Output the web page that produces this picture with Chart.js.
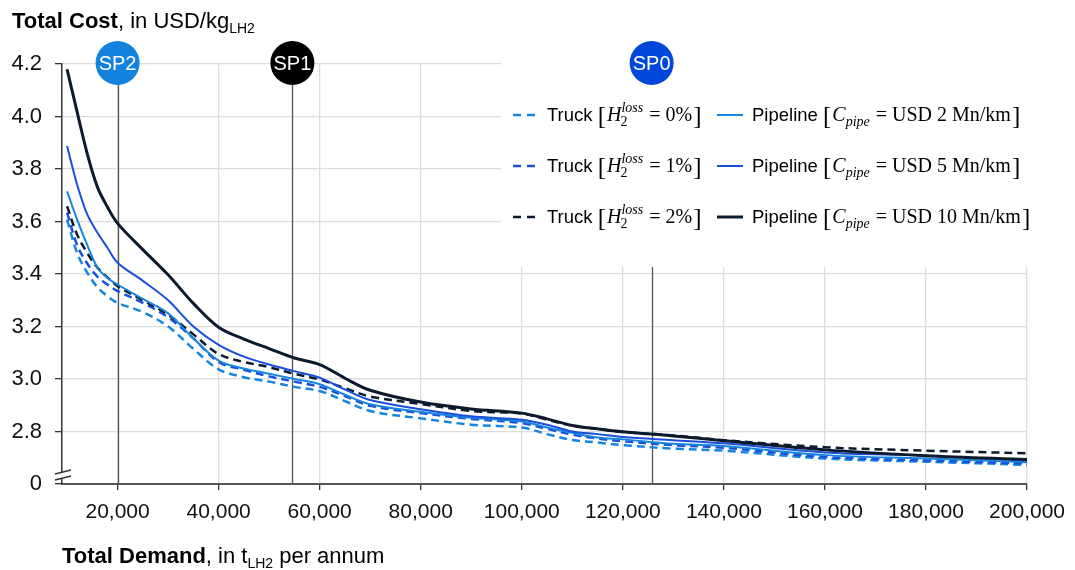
<!DOCTYPE html>
<html>
<head>
<meta charset="utf-8">
<script src="https://cdn.jsdelivr.net/npm/chart.js@4.4.1/dist/chart.umd.min.js"></script>
<style>
  html, body { margin: 0; padding: 0; background: #fff; }
  canvas { display: block; }
</style>
</head>
<body>
<canvas id="costChart" width="1075" height="570"></canvas>
<script>
// Total demand, t LH2 per annum
const demand = [10000, 12000, 14000, 16000, 18000, 20000, 25000, 30000, 35000, 40000, 45000, 50000, 55000, 60000,
                65000, 70000, 80000, 90000, 100000, 105000, 110000, 115000, 120000, 130000, 140000, 160000, 180000, 200000];

// Total cost, USD/kg LH2
const truck0 = [3.607, 3.48, 3.405, 3.35, 3.315, 3.29, 3.255, 3.2, 3.115, 3.037, 3.007, 2.99, 2.97, 2.954,
                2.916, 2.878, 2.85, 2.826, 2.815, 2.79, 2.768, 2.758, 2.748, 2.735, 2.727, 2.697, 2.685, 2.673];
const truck1 = [3.634, 3.51, 3.44, 3.39, 3.36, 3.335, 3.29, 3.235, 3.155, 3.065, 3.035, 3.01, 2.99, 2.97,
                2.935, 2.898, 2.87, 2.848, 2.832, 2.81, 2.788, 2.773, 2.763, 2.748, 2.738, 2.703, 2.69, 2.678];
const truck2 = [3.658, 3.55, 3.48, 3.425, 3.387, 3.354, 3.3, 3.245, 3.17, 3.095, 3.065, 3.045, 3.02, 2.998,
                2.965, 2.933, 2.905, 2.878, 2.868, 2.845, 2.822, 2.81, 2.798, 2.785, 2.767, 2.74, 2.727, 2.717];
const pipe2  = [3.715, 3.607, 3.51, 3.425, 3.385, 3.36, 3.305, 3.25, 3.155, 3.07, 3.04, 3.02, 3.0, 2.98,
                2.94, 2.904, 2.875, 2.852, 2.838, 2.815, 2.795, 2.777, 2.77, 2.753, 2.745, 2.71, 2.697, 2.683];
const pipe5  = [3.888, 3.74, 3.627, 3.558, 3.5, 3.443, 3.374, 3.3, 3.2, 3.13, 3.085, 3.055, 3.03, 3.005,
                2.96, 2.92, 2.885, 2.858, 2.845, 2.826, 2.8, 2.79, 2.779, 2.767, 2.755, 2.72, 2.708, 2.689];
const pipe10 = [4.18, 4.017, 3.858, 3.732, 3.655, 3.593, 3.493, 3.397, 3.288, 3.197, 3.152, 3.116, 3.08, 3.055,
                3.003, 2.957, 2.912, 2.886, 2.87, 2.848, 2.823, 2.81, 2.799, 2.783, 2.765, 2.73, 2.708, 2.693];

const truckLoss = ['0%', '1%', '2%'];
const pipeCost = ['2', '5', '10'];

const xTicks = [20000, 40000, 60000, 80000, 100000, 120000, 140000, 160000, 180000, 200000];
const yTicks = [2.6, 2.8, 3.0, 3.2, 3.4, 3.6, 3.8, 4.0, 4.2];

// supply points
const spLabels = ['SP2', 'SP1', 'SP0'];
const spDemand = [20000, 54600, 125700];

const LIGHT = '#1486e0';
const MID = '#1a4fdb';
const NAVY = '#0b1a2c';
const SANS = "'Liberation Sans', Arial, sans-serif";
const SERIF = "'Liberation Serif', 'Times New Roman', serif";

const pts = arr => arr.map((v, i) => ({ x: demand[i], y: v }));

const line = (label, data, color, width, dashed) => ({
    label, data: pts(data), borderColor: color, backgroundColor: color,
    borderWidth: width, borderDash: dashed ? [8, 5] : [],
    pointRadius: 0, fill: false, tension: 0.35
});

// draws "= value" with math-style spacing round the sign
function mathEq(ctx, lx, by, rest) {
    ctx.font = `20px ${SERIF}`;
    ctx.fillText('=', lx + 4, by);
    lx += 4 + ctx.measureText('=').width + 5;
    ctx.fillText(rest, lx, by);
    return lx + ctx.measureText(rest).width;
}

// legend, markers, titles and the axis break
const decorPlugin = {
    id: 'decor',
    beforeDatasetsDraw(chart) {
        const { ctx, scales: { x, y } } = chart;
        ctx.save();
        // white legend panel hides the grid behind it
        ctx.fillStyle = '#fff';
        ctx.fillRect(501, 30, 547, 237);
        // supply point lines
        ctx.strokeStyle = '#555';
        ctx.lineWidth = 1.3;
        spDemand.forEach((d, i) => {
            const px = Math.round(x.getPixelForValue(d)) + 0.5;
            ctx.beginPath();
            ctx.moveTo(px, i === 2 ? 267 : 80);
            ctx.lineTo(px, y.bottom);
            ctx.stroke();
        });
        ctx.restore();
    },
    afterDraw(chart) {
        const { ctx, scales: { x } } = chart;
        ctx.save();
        ctx.textBaseline = 'alphabetic';

        // supply point markers
        const spColors = ['#1282dd', '#000000', '#0047d9'];
        spDemand.forEach((d, i) => {
            const px = x.getPixelForValue(d);
            ctx.fillStyle = spColors[i];
            ctx.beginPath();
            ctx.arc(px, 63, 22, 0, Math.PI * 2);
            ctx.fill();
            ctx.fillStyle = '#fff';
            ctx.font = `20px ${SANS}`;
            ctx.textAlign = 'center';
            ctx.fillText(spLabels[i], px, 70);
        });
        ctx.textAlign = 'left';

        // y title
        ctx.fillStyle = '#000';
        let tx = 12;
        ctx.font = `bold 22px ${SANS}`;
        ctx.fillText('Total Cost', tx, 28);
        tx += ctx.measureText('Total Cost').width;
        ctx.font = `22px ${SANS}`;
        ctx.fillText(', in USD/kg', tx, 28);
        tx += ctx.measureText(', in USD/kg').width;
        ctx.font = `14px ${SANS}`;
        ctx.fillText('LH2', tx, 33);

        // x title
        tx = 62;
        ctx.font = `bold 22px ${SANS}`;
        ctx.fillText('Total Demand', tx, 563);
        tx += ctx.measureText('Total Demand').width;
        ctx.font = `22px ${SANS}`;
        ctx.fillText(', in t', tx, 563);
        tx += ctx.measureText(', in t').width;
        ctx.font = `14px ${SANS}`;
        ctx.fillText('LH2', tx, 568);
        tx += ctx.measureText('LH2').width;
        ctx.font = `22px ${SANS}`;
        ctx.fillText(' per annum', tx, 563);

        // axis break
        ctx.fillStyle = '#fff';
        ctx.beginPath();
        ctx.moveTo(55, 474); ctx.lineTo(71, 470); ctx.lineTo(71, 476); ctx.lineTo(55, 480);
        ctx.closePath();
        ctx.fill();
        ctx.strokeStyle = '#333';
        ctx.lineWidth = 1.3;
        ctx.beginPath();
        ctx.moveTo(55, 474); ctx.lineTo(71, 470);
        ctx.moveTo(55, 480); ctx.lineTo(71, 476);
        ctx.stroke();

        // legend
        const rows = [121, 172, 223];
        const colors = [LIGHT, MID, NAVY];
        rows.forEach((by, i) => {
            const ly = by - 6;
            ctx.lineWidth = 2.5;
            ctx.strokeStyle = colors[i];
            ctx.setLineDash([8, 6]);
            ctx.beginPath(); ctx.moveTo(513, ly); ctx.lineTo(540, ly); ctx.stroke();
            ctx.setLineDash([]);
            ctx.lineWidth = i === 2 ? 3 : 2;
            ctx.beginPath(); ctx.moveTo(717, ly); ctx.lineTo(743, ly); ctx.stroke();

            ctx.fillStyle = '#000';
            // Truck [H2^loss = n%]
            let lx = 547;
            ctx.font = `18.5px ${SANS}`;
            ctx.fillText('Truck', lx, by);
            lx += ctx.measureText('Truck ').width;
            ctx.font = `25px ${SERIF}`;
            ctx.fillText('[', lx, by + 3);
            lx += ctx.measureText('[').width + 1;
            ctx.font = `italic 20px ${SERIF}`;
            ctx.fillText('H', lx, by);
            lx += ctx.measureText('H').width;
            ctx.font = `italic 14px ${SERIF}`;
            ctx.fillText('loss', lx, by - 9);
            const sw = ctx.measureText('loss').width;
            ctx.font = `14px ${SERIF}`;
            ctx.fillText('2', lx - 1, by + 5);
            lx += sw + 2;
            lx = mathEq(ctx, lx, by, truckLoss[i]);
            ctx.font = `25px ${SERIF}`;
            ctx.fillText(']', lx + 1, by + 3);

            // Pipeline [C_pipe = USD n Mn/km]
            lx = 752;
            ctx.font = `18.5px ${SANS}`;
            ctx.fillText('Pipeline', lx, by);
            lx += ctx.measureText('Pipeline ').width;
            ctx.font = `25px ${SERIF}`;
            ctx.fillText('[', lx, by + 3);
            lx += ctx.measureText('[').width + 1;
            ctx.font = `italic 20px ${SERIF}`;
            ctx.fillText('C', lx, by);
            lx += ctx.measureText('C').width;
            ctx.font = `italic 14px ${SERIF}`;
            ctx.fillText('pipe', lx, by + 5);
            lx += ctx.measureText('pipe').width + 2;
            lx = mathEq(ctx, lx, by, 'USD ' + pipeCost[i] + ' Mn/km');
            ctx.font = `25px ${SERIF}`;
            ctx.fillText(']', lx + 1, by + 3);
        });
        ctx.restore();
    }
};

new Chart(document.getElementById('costChart'), {
    type: 'line',
    data: {
        datasets: [
            line('Pipeline [C_pipe = USD 10 Mn/km]', pipe10, NAVY, 3, false),
            line('Pipeline [C_pipe = USD 5 Mn/km]', pipe5, MID, 2, false),
            line('Pipeline [C_pipe = USD 2 Mn/km]', pipe2, LIGHT, 2, false),
            line('Truck [H2 loss = 2%]', truck2, NAVY, 2.5, true),
            line('Truck [H2 loss = 1%]', truck1, MID, 2.5, true),
            line('Truck [H2 loss = 0%]', truck0, LIGHT, 2.5, true)
        ]
    },
    options: {
        responsive: false,
        animation: false,
        layout: { padding: { top: 64, right: 43, left: 0, bottom: 0 } },
        plugins: { legend: { display: false }, tooltip: { enabled: false } },
        scales: {
            x: {
                type: 'linear', min: 9000, max: 200000,
                afterBuildTicks: s => { s.ticks = xTicks.map(v => ({ value: v })); },
                afterFit: s => { s.height = 86; },
                grid: { color: '#dcdcdc', lineWidth: 1.3, tickColor: '#333', tickLength: 6 },
                border: { color: '#555', width: 2 },
                ticks: {
                    padding: 10, color: '#111', font: { family: SANS, size: 21 },
                    maxRotation: 0,
                    callback: v => v.toLocaleString('en-US')
                }
            },
            y: {
                min: 2.6, max: 4.2,
                afterBuildTicks: s => { s.ticks = yTicks.map(v => ({ value: v })); },
                afterFit: s => { s.width = 62; },
                grid: { color: '#dcdcdc', lineWidth: 1.3, tickColor: '#333', tickLength: 7 },
                border: { color: '#333', width: 1.5 },
                ticks: {
                    padding: 13, color: '#111', font: { family: SANS, size: 22 },
                    callback: v => v < 2.7 ? '0' : v.toFixed(1)
                }
            }
        }
    },
    plugins: [decorPlugin]
});
</script>
</body>
</html>
